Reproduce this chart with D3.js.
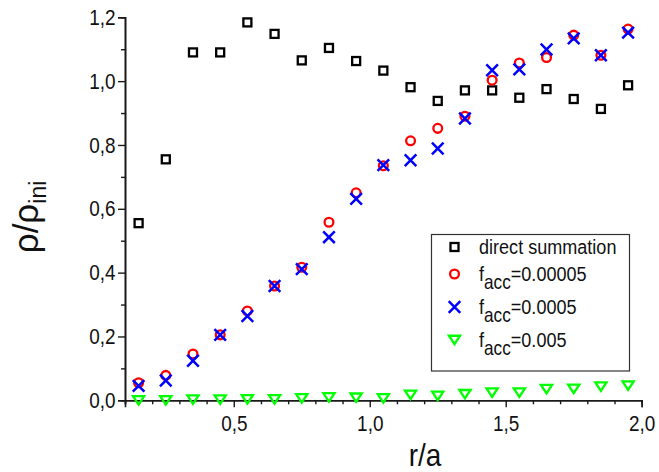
<!DOCTYPE html>
<html>
<head>
<meta charset="utf-8">
<script src="https://cdn.jsdelivr.net/npm/d3@7"></script>
<style>
  body { margin: 0; background: #fff; }
  svg { display: block; }
  text { font-family: "Liberation Sans", Arial, sans-serif; }
</style>
</head>
<body>
<svg id="chart" width="659" height="472"></svg>
<script>
// ---- data ----
const rValues = [0.15, 0.25, 0.35, 0.45, 0.55, 0.65, 0.75, 0.85, 0.95, 1.05,
                 1.15, 1.25, 1.35, 1.45, 1.55, 1.65, 1.75, 1.85, 1.95];
const directSummation = [0.555, 0.755, 1.090, 1.090, 1.184, 1.148, 1.065, 1.104, 1.063, 1.033,
                         0.981, 0.938, 0.971, 0.971, 0.948, 0.975, 0.944, 0.913, 0.987];
const facc00005 = [0.055, 0.078, 0.145, 0.205, 0.280, 0.358, 0.417, 0.558, 0.650, 0.735,
                   0.813, 0.852, 0.890, 1.003, 1.057, 1.074, 1.144, 1.081, 1.163];
const facc0005 = [0.045, 0.062, 0.124, 0.205, 0.264, 0.358, 0.411, 0.511, 0.631, 0.737,
                  0.752, 0.789, 0.883, 1.034, 1.037, 1.099, 1.134, 1.081, 1.152];
const facc005 = [0.000, 0.000, 0.002, 0.002, 0.003, 0.003, 0.006, 0.009, 0.008, 0.006,
                 0.017, 0.014, 0.019, 0.024, 0.024, 0.035, 0.036, 0.043, 0.046];
const xMajorTicks = [0.5, 1.0, 1.5, 2.0];
const yMajorTicks = [0.0, 0.2, 0.4, 0.6, 0.8, 1.0, 1.2];
const legendLabels = ["direct summation", "0.00005", "0.0005", "0.005"];

// ---- layout ----
const FONT = "'Liberation Sans', Arial, sans-serif";
const svg = d3.select("#chart");
const x = d3.scaleLinear().domain([0.1, 2.0]).range([125, 641.7]);
const y = d3.scaleLinear().domain([0, 1.2]).range([400.3, 17.3]);
const fmt = v => d3.format(".1f")(v).replace(".", ",");
const axisColor = "#1a1a1a";
const SX = 0.86;

// minor ticks
const xMinor = d3.range(1, 21).map(i => i / 10).filter(v => !xMajorTicks.some(m => Math.abs(m - v) < 1e-9));
const yMinor = d3.range(0, 13).map(i => i / 10).filter(v => !yMajorTicks.some(m => Math.abs(m - v) < 1e-9));

const gxMinor = svg.append("g").attr("transform", `translate(0,${y(0)})`)
  .call(d3.axisBottom(x).tickValues(xMinor).tickSize(4).tickFormat(""));
const gx = svg.append("g").attr("transform", `translate(0,${y(0)})`)
  .call(d3.axisBottom(x).tickValues(xMajorTicks).tickSize(7).tickPadding(8).tickFormat(fmt));
const gyMinor = svg.append("g").attr("transform", `translate(${x(0.1)},0)`)
  .call(d3.axisLeft(y).tickValues(yMinor).tickSize(4).tickFormat(""));
const gy = svg.append("g").attr("transform", `translate(${x(0.1)},0)`)
  .call(d3.axisLeft(y).tickValues(yMajorTicks).tickSize(7).tickPadding(4).tickFormat(fmt));

[gxMinor, gx, gyMinor, gy].forEach(g => {
  g.attr("font-family", FONT);
  g.selectAll(".domain").attr("stroke", axisColor).attr("stroke-width", 1.6);
  g.selectAll(".tick line").attr("stroke", axisColor).attr("stroke-width", 1.4);
});
gx.selectAll(".tick text").attr("font-size", 22).attr("fill", "#111")
  .attr("font-family", FONT)
  .attr("transform", `scale(${SX},1)`);
gy.selectAll(".tick text").attr("font-size", 22).attr("fill", "#111")
  .attr("font-family", FONT)
  .attr("transform", `scale(${SX},1)`);

// ---- axis titles ----
svg.append("text")
  .attr("transform", `translate(425,466) scale(0.9,1)`)
  .attr("font-family", FONT)
  .attr("text-anchor", "middle").attr("font-size", 31).attr("fill", "#111")
  .text("r/a");

const yt = svg.append("text")
  .attr("transform", "translate(38,217) rotate(-90)")
  .attr("font-family", FONT)
  .attr("text-anchor", "middle").attr("font-size", 35).attr("fill", "#111");
yt.append("tspan").text("ρ/ρ");
yt.append("tspan").attr("font-size", 23).attr("dy", 8).text("ini");

// ---- markers ----
const plot = svg.append("g");
const pts = (vals) => rValues.map((r, i) => ({ r, v: vals[i] }));

function drawSquare(g, cx, cy) {
  g.append("rect").attr("x", cx - 4).attr("y", cy - 4).attr("width", 8).attr("height", 8)
    .attr("fill", "none").attr("stroke", "#000").attr("stroke-width", 2.3);
}
function drawCircle(g, cx, cy) {
  g.append("circle").attr("cx", cx).attr("cy", cy).attr("r", 4.4)
    .attr("fill", "none").attr("stroke", "#ff0000").attr("stroke-width", 2.3);
}
function drawCross(g, cx, cy) {
  const s = 5.8;
  g.append("path").attr("d", `M${cx - s},${cy - s}L${cx + s},${cy + s}M${cx - s},${cy + s}L${cx + s},${cy - s}`)
    .attr("fill", "none").attr("stroke", "#0000ff").attr("stroke-width", 2.5);
}
function drawTriangle(g, cx, cy) {
  const w = 5.6, h = 8.5;
  g.append("path").attr("d", `M${cx - w},${cy - h / 2}L${cx + w},${cy - h / 2}L${cx},${cy + h / 2}Z`)
    .attr("fill", "none").attr("stroke", "#00ff00").attr("stroke-width", 2.3).attr("stroke-linejoin", "miter");
}

pts(facc005).forEach(d => drawTriangle(plot, x(d.r), y(d.v)));
pts(directSummation).forEach(d => drawSquare(plot, x(d.r), y(d.v)));
pts(facc00005).forEach(d => drawCircle(plot, x(d.r), y(d.v)));
pts(facc0005).forEach(d => drawCross(plot, x(d.r), y(d.v)));

// ---- legend ----
const lg = svg.append("g");
lg.append("rect").attr("x", 431.5).attr("y", 234.5).attr("width", 198).attr("height", 136.5)
  .attr("fill", "#fff").attr("stroke", "#333").attr("stroke-width", 1.2);
const rowsY = [247, 274, 307, 340];
const markerX = 454.5, textX = 479;
const drawers = [drawSquare, drawCircle, drawCross, drawTriangle];
const LS = 0.86;
legendLabels.forEach((lab, i) => {
  drawers[i](lg, markerX, rowsY[i]);
  const t = lg.append("text")
    .attr("transform", `translate(${textX},${rowsY[i] + 7}) scale(${LS},1)`)
    .attr("font-family", FONT)
    .attr("font-size", 21).attr("fill", "#111");
  if (i === 0) {
    t.text(lab);
  } else {
    t.append("tspan").text("f");
    t.append("tspan").attr("font-size", 20).attr("dy", 8).text("acc");
    t.append("tspan").attr("dy", -8).text("=" + lab);
  }
});
</script>
</body>
</html>
